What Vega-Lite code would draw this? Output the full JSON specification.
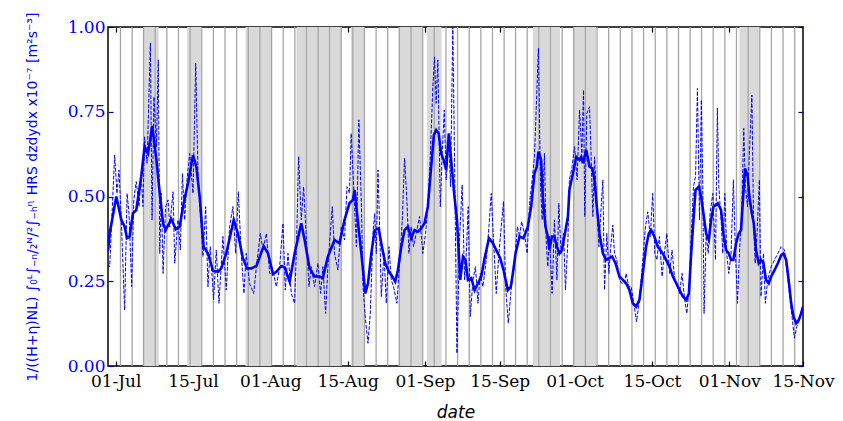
{
  "$schema": "https://vega.github.io/schema/vega-lite/v6.json",
  "width": 695,
  "height": 339,
  "autosize": {"type": "none"},
  "padding": {"left": 108, "top": 27, "right": 40, "bottom": 55},
  "background": "white",
  "config": {"view": {"stroke": "#000000", "strokeWidth": 1.5}, "axis": {"grid": false, "domain": false}},
  "datasets": {
    "spans": [
      {"start": "07-06 12", "end": "07-09 15"},
      {"start": "07-15 08", "end": "07-18 03"},
      {"start": "07-27 01", "end": "08-01 04"},
      {"start": "08-06 06", "end": "08-15 09"},
      {"start": "08-17 04", "end": "08-19 21"},
      {"start": "08-26 17", "end": "08-31 15"},
      {"start": "09-01 10", "end": "09-04 08"},
      {"start": "09-22 16", "end": "09-28 02"},
      {"start": "09-30 16", "end": "10-05 07"},
      {"start": "11-03 01", "end": "11-07 01"}
    ],
    "vlines": [
      {"t": "07-01 23"}, {"t": "07-04 07"}, {"t": "07-06 14"}, {"t": "07-08 22"}, {"t": "07-11 06"},
      {"t": "07-13 14"}, {"t": "07-15 22"}, {"t": "07-18 06"}, {"t": "07-20 14"}, {"t": "07-22 22"},
      {"t": "07-25 06"}, {"t": "07-27 14"}, {"t": "07-29 22"}, {"t": "08-01 06"}, {"t": "08-03 14"},
      {"t": "08-05 22"}, {"t": "08-08 06"}, {"t": "08-10 14"}, {"t": "08-12 21"}, {"t": "08-15 05"},
      {"t": "08-17 13"}, {"t": "08-19 21"}, {"t": "08-22 05"}, {"t": "08-24 13"}, {"t": "08-26 21"},
      {"t": "08-29 05"}, {"t": "08-31 13"}, {"t": "09-02 21"}, {"t": "09-05 05"}, {"t": "09-07 13"},
      {"t": "09-09 21"}, {"t": "09-12 05"}, {"t": "09-14 13"}, {"t": "09-16 21"}, {"t": "09-19 04"},
      {"t": "09-21 12"}, {"t": "09-23 20"}, {"t": "09-26 04"}, {"t": "09-28 12"}, {"t": "09-30 20"},
      {"t": "10-03 04"}, {"t": "10-05 12"}, {"t": "10-07 20"}, {"t": "10-10 04"}, {"t": "10-12 12"},
      {"t": "10-14 20"}, {"t": "10-17 04"}, {"t": "10-19 12"}, {"t": "10-21 20"}, {"t": "10-24 04"},
      {"t": "10-26 11"}, {"t": "10-28 19"}, {"t": "10-31 03"}, {"t": "11-02 11"}, {"t": "11-04 19"},
      {"t": "11-07 03"}, {"t": "11-09 11"}, {"t": "11-11 19"}, {"t": "11-14 03"}
    ],
    "raw": [
      {"t": "06-29 12", "v": 0.30}, {"t": "06-29 19", "v": 0.293}, {"t": "06-30 19", "v": 0.622},
      {"t": "07-01 06", "v": 0.509}, {"t": "07-01 16", "v": 0.578}, {"t": "07-02 03", "v": 0.431},
      {"t": "07-02 19", "v": 0.165}, {"t": "07-03 07", "v": 0.509}, {"t": "07-03 16", "v": 0.45},
      {"t": "07-04 05", "v": 0.234}, {"t": "07-04 15", "v": 0.49}, {"t": "07-05 03", "v": 0.544},
      {"t": "07-05 16", "v": 0.47}, {"t": "07-06 03", "v": 0.559}, {"t": "07-06 11", "v": 0.47},
      {"t": "07-06 19", "v": 0.676}, {"t": "07-07 07", "v": 0.598}, {"t": "07-07 23", "v": 0.952},
      {"t": "07-08 07", "v": 0.431}, {"t": "07-08 16", "v": 0.794}, {"t": "07-09 04", "v": 0.647},
      {"t": "07-09 13", "v": 0.903}, {"t": "07-09 20", "v": 0.332}, {"t": "07-10 04", "v": 0.509},
      {"t": "07-10 12", "v": 0.273}, {"t": "07-11 00", "v": 0.47}, {"t": "07-11 12", "v": 0.49},
      {"t": "07-11 20", "v": 0.411}, {"t": "07-12 12", "v": 0.514}, {"t": "07-12 20", "v": 0.303},
      {"t": "07-13 12", "v": 0.431}, {"t": "07-13 23", "v": 0.342}, {"t": "07-14 09", "v": 0.568},
      {"t": "07-14 20", "v": 0.431}, {"t": "07-15 07", "v": 0.549}, {"t": "07-15 20", "v": 0.627},
      {"t": "07-16 12", "v": 0.509}, {"t": "07-17 01", "v": 0.893}, {"t": "07-17 12", "v": 0.568},
      {"t": "07-17 23", "v": 0.45}, {"t": "07-18 12", "v": 0.323}, {"t": "07-19 01", "v": 0.47},
      {"t": "07-19 12", "v": 0.234}, {"t": "07-19 23", "v": 0.352}, {"t": "07-20 15", "v": 0.195},
      {"t": "07-21 04", "v": 0.342}, {"t": "07-21 17", "v": 0.185}, {"t": "07-22 12", "v": 0.382},
      {"t": "07-23 04", "v": 0.224}, {"t": "07-23 20", "v": 0.411}, {"t": "07-24 12", "v": 0.47},
      {"t": "07-25 01", "v": 0.332}, {"t": "07-25 14", "v": 0.514}, {"t": "07-26 04", "v": 0.332},
      {"t": "07-26 17", "v": 0.214}, {"t": "07-27 04", "v": 0.332}, {"t": "07-27 20", "v": 0.244},
      {"t": "07-28 16", "v": 0.214}, {"t": "07-29 05", "v": 0.293}, {"t": "07-30 00", "v": 0.391},
      {"t": "07-30 13", "v": 0.342}, {"t": "07-31 05", "v": 0.391}, {"t": "07-31 21", "v": 0.273},
      {"t": "08-01 16", "v": 0.273}, {"t": "08-02 05", "v": 0.234}, {"t": "08-02 21", "v": 0.293},
      {"t": "08-03 13", "v": 0.421}, {"t": "08-04 00", "v": 0.224}, {"t": "08-04 13", "v": 0.332},
      {"t": "08-05 05", "v": 0.214}, {"t": "08-05 21", "v": 0.185}, {"t": "08-06 05", "v": 0.332},
      {"t": "08-06 16", "v": 0.617}, {"t": "08-07 05", "v": 0.431}, {"t": "08-07 16", "v": 0.529},
      {"t": "08-08 05", "v": 0.382}, {"t": "08-08 18", "v": 0.234}, {"t": "08-09 05", "v": 0.293},
      {"t": "08-09 21", "v": 0.234}, {"t": "08-10 13", "v": 0.303}, {"t": "08-11 02", "v": 0.214},
      {"t": "08-11 13", "v": 0.293}, {"t": "08-12 02", "v": 0.155}, {"t": "08-12 13", "v": 0.293},
      {"t": "08-13 10", "v": 0.47}, {"t": "08-13 21", "v": 0.332}, {"t": "08-14 13", "v": 0.283},
      {"t": "08-15 05", "v": 0.411}, {"t": "08-15 21", "v": 0.372}, {"t": "08-16 09", "v": 0.529},
      {"t": "08-16 21", "v": 0.51}, {"t": "08-17 05", "v": 0.686}, {"t": "08-17 17", "v": 0.529},
      {"t": "08-18 06", "v": 0.352}, {"t": "08-18 18", "v": 0.726}, {"t": "08-19 06", "v": 0.48},
      {"t": "08-19 14", "v": 0.234}, {"t": "08-20 02", "v": 0.136}, {"t": "08-20 14", "v": 0.067},
      {"t": "08-21 01", "v": 0.155}, {"t": "08-21 14", "v": 0.391}, {"t": "08-21 22", "v": 0.45},
      {"t": "08-22 06", "v": 0.332}, {"t": "08-22 14", "v": 0.578}, {"t": "08-22 22", "v": 0.411},
      {"t": "08-23 06", "v": 0.205}, {"t": "08-23 19", "v": 0.332}, {"t": "08-24 06", "v": 0.185},
      {"t": "08-24 19", "v": 0.352}, {"t": "08-25 06", "v": 0.254}, {"t": "08-25 17", "v": 0.234},
      {"t": "08-26 09", "v": 0.185}, {"t": "08-26 22", "v": 0.303}, {"t": "08-27 11", "v": 0.431},
      {"t": "08-27 22", "v": 0.613}, {"t": "08-28 09", "v": 0.49}, {"t": "08-28 19", "v": 0.332},
      {"t": "08-29 06", "v": 0.411}, {"t": "08-29 17", "v": 0.352}, {"t": "08-30 06", "v": 0.391},
      {"t": "08-30 22", "v": 0.441}, {"t": "08-31 14", "v": 0.332}, {"t": "09-01 03", "v": 0.391},
      {"t": "09-01 14", "v": 0.47}, {"t": "09-02 01", "v": 0.608}, {"t": "09-02 14", "v": 0.824},
      {"t": "09-02 22", "v": 0.912}, {"t": "09-03 06", "v": 0.775}, {"t": "09-03 14", "v": 0.903},
      {"t": "09-04 02", "v": 0.47}, {"t": "09-04 11", "v": 0.627}, {"t": "09-04 21", "v": 0.755},
      {"t": "09-05 06", "v": 0.549}, {"t": "09-05 19", "v": 0.676}, {"t": "09-06 03", "v": 0.529},
      {"t": "09-06 14", "v": 1.0}, {"t": "09-07 00", "v": 0.529}, {"t": "09-07 10", "v": 0.037},
      {"t": "09-07 23", "v": 0.382}, {"t": "09-08 11", "v": 0.534}, {"t": "09-08 23", "v": 0.254},
      {"t": "09-09 07", "v": 0.332}, {"t": "09-09 16", "v": 0.47}, {"t": "09-10 02", "v": 0.146},
      {"t": "09-10 15", "v": 0.254}, {"t": "09-11 03", "v": 0.293}, {"t": "09-11 15", "v": 0.185},
      {"t": "09-12 02", "v": 0.273}, {"t": "09-12 15", "v": 0.234}, {"t": "09-13 07", "v": 0.313},
      {"t": "09-13 20", "v": 0.411}, {"t": "09-14 07", "v": 0.509}, {"t": "09-14 18", "v": 0.372},
      {"t": "09-15 07", "v": 0.214}, {"t": "09-15 20", "v": 0.332}, {"t": "09-16 07", "v": 0.411},
      {"t": "09-16 18", "v": 0.485}, {"t": "09-17 04", "v": 0.234}, {"t": "09-17 17", "v": 0.126},
      {"t": "09-18 05", "v": 0.214}, {"t": "09-18 15", "v": 0.273}, {"t": "09-19 02", "v": 0.332},
      {"t": "09-19 13", "v": 0.411}, {"t": "09-19 23", "v": 0.382}, {"t": "09-20 09", "v": 0.426},
      {"t": "09-20 23", "v": 0.391}, {"t": "09-21 12", "v": 0.332}, {"t": "09-21 23", "v": 0.48},
      {"t": "09-22 12", "v": 0.549}, {"t": "09-22 23", "v": 0.617}, {"t": "09-23 10", "v": 0.804},
      {"t": "09-23 18", "v": 0.937}, {"t": "09-24 04", "v": 0.529}, {"t": "09-24 12", "v": 0.431},
      {"t": "09-24 23", "v": 0.627}, {"t": "09-25 07", "v": 0.372}, {"t": "09-25 15", "v": 0.293},
      {"t": "09-25 23", "v": 0.382}, {"t": "09-26 12", "v": 0.214}, {"t": "09-26 23", "v": 0.431},
      {"t": "09-27 11", "v": 0.254}, {"t": "09-27 20", "v": 0.48}, {"t": "09-28 07", "v": 0.332},
      {"t": "09-28 19", "v": 0.391}, {"t": "09-29 04", "v": 0.224}, {"t": "09-29 16", "v": 0.372},
      {"t": "09-29 23", "v": 0.549}, {"t": "09-30 12", "v": 0.588}, {"t": "10-01 00", "v": 0.647},
      {"t": "10-01 12", "v": 0.549}, {"t": "10-02 00", "v": 0.755}, {"t": "10-02 11", "v": 0.627},
      {"t": "10-02 19", "v": 0.814}, {"t": "10-03 01", "v": 0.441}, {"t": "10-03 11", "v": 0.745},
      {"t": "10-04 00", "v": 0.765}, {"t": "10-04 08", "v": 0.608}, {"t": "10-04 16", "v": 0.441},
      {"t": "10-05 00", "v": 0.617}, {"t": "10-05 08", "v": 0.509}, {"t": "10-05 21", "v": 0.352},
      {"t": "10-06 08", "v": 0.47}, {"t": "10-06 16", "v": 0.549}, {"t": "10-07 00", "v": 0.224},
      {"t": "10-07 11", "v": 0.391}, {"t": "10-07 21", "v": 0.273}, {"t": "10-08 06", "v": 0.352},
      {"t": "10-08 16", "v": 0.416}, {"t": "10-09 00", "v": 0.332}, {"t": "10-09 11", "v": 0.313},
      {"t": "10-10 00", "v": 0.254}, {"t": "10-10 11", "v": 0.244}, {"t": "10-11 00", "v": 0.244},
      {"t": "10-11 08", "v": 0.273}, {"t": "10-11 21", "v": 0.234}, {"t": "10-12 08", "v": 0.234},
      {"t": "10-12 21", "v": 0.185}, {"t": "10-13 10", "v": 0.131}, {"t": "10-14 00", "v": 0.195},
      {"t": "10-14 16", "v": 0.313}, {"t": "10-15 05", "v": 0.411}, {"t": "10-15 16", "v": 0.455},
      {"t": "10-16 04", "v": 0.382}, {"t": "10-16 16", "v": 0.509}, {"t": "10-17 02", "v": 0.332},
      {"t": "10-17 12", "v": 0.313}, {"t": "10-18 00", "v": 0.382}, {"t": "10-18 13", "v": 0.264},
      {"t": "10-19 00", "v": 0.332}, {"t": "10-19 12", "v": 0.391}, {"t": "10-20 01", "v": 0.273},
      {"t": "10-20 13", "v": 0.342}, {"t": "10-21 02", "v": 0.254}, {"t": "10-21 13", "v": 0.244},
      {"t": "10-22 01", "v": 0.214}, {"t": "10-22 13", "v": 0.273}, {"t": "10-23 01", "v": 0.2},
      {"t": "10-23 12", "v": 0.155}, {"t": "10-24 01", "v": 0.244}, {"t": "10-24 10", "v": 0.391},
      {"t": "10-24 20", "v": 0.529}, {"t": "10-25 06", "v": 0.559}, {"t": "10-25 15", "v": 0.819},
      {"t": "10-26 01", "v": 0.431}, {"t": "10-26 10", "v": 0.785}, {"t": "10-26 17", "v": 0.529},
      {"t": "10-26 23", "v": 0.155}, {"t": "10-27 09", "v": 0.391}, {"t": "10-27 19", "v": 0.332},
      {"t": "10-28 04", "v": 0.45}, {"t": "10-28 17", "v": 0.509}, {"t": "10-29 06", "v": 0.313},
      {"t": "10-29 15", "v": 0.76}, {"t": "10-29 22", "v": 0.529}, {"t": "10-30 09", "v": 0.431},
      {"t": "10-30 17", "v": 0.332}, {"t": "10-31 03", "v": 0.509}, {"t": "10-31 12", "v": 0.332},
      {"t": "10-31 22", "v": 0.273}, {"t": "11-01 09", "v": 0.332}, {"t": "11-01 20", "v": 0.549},
      {"t": "11-02 06", "v": 0.332}, {"t": "11-02 16", "v": 0.185}, {"t": "11-03 01", "v": 0.332},
      {"t": "11-03 12", "v": 0.45}, {"t": "11-03 22", "v": 0.701}, {"t": "11-04 06", "v": 0.529},
      {"t": "11-04 16", "v": 0.47}, {"t": "11-05 01", "v": 0.627}, {"t": "11-05 13", "v": 0.799},
      {"t": "11-05 21", "v": 0.431}, {"t": "11-06 05", "v": 0.303}, {"t": "11-06 14", "v": 0.391},
      {"t": "11-07 01", "v": 0.549}, {"t": "11-07 09", "v": 0.205}, {"t": "11-07 21", "v": 0.332},
      {"t": "11-08 06", "v": 0.185}, {"t": "11-08 17", "v": 0.254}, {"t": "11-09 10", "v": 0.293},
      {"t": "11-10 02", "v": 0.313}, {"t": "11-10 18", "v": 0.332}, {"t": "11-11 10", "v": 0.352},
      {"t": "11-12 02", "v": 0.342}, {"t": "11-12 13", "v": 0.283}, {"t": "11-13 02", "v": 0.214},
      {"t": "11-13 14", "v": 0.146}, {"t": "11-14 02", "v": 0.082}, {"t": "11-14 13", "v": 0.116},
      {"t": "11-15 02", "v": 0.136}, {"t": "11-15 13", "v": 0.165}, {"t": "11-15 19", "v": 0.175}
    ],
    "smooth": [
      {"t": "06-29 11", "v": 0.34}, {"t": "06-29 19", "v": 0.391}, {"t": "07-01 03", "v": 0.5},
      {"t": "07-02 03", "v": 0.431}, {"t": "07-02 19", "v": 0.411}, {"t": "07-03 07", "v": 0.377},
      {"t": "07-03 19", "v": 0.382}, {"t": "07-04 11", "v": 0.45}, {"t": "07-05 03", "v": 0.46},
      {"t": "07-06 03", "v": 0.559}, {"t": "07-06 19", "v": 0.647}, {"t": "07-07 12", "v": 0.627},
      {"t": "07-08 08", "v": 0.708}, {"t": "07-09 04", "v": 0.608}, {"t": "07-09 20", "v": 0.509},
      {"t": "07-10 12", "v": 0.421}, {"t": "07-11 00", "v": 0.401}, {"t": "07-12 04", "v": 0.433},
      {"t": "07-13 01", "v": 0.403}, {"t": "07-13 20", "v": 0.411}, {"t": "07-14 15", "v": 0.48},
      {"t": "07-15 12", "v": 0.539}, {"t": "07-16 12", "v": 0.622}, {"t": "07-17 04", "v": 0.588},
      {"t": "07-17 20", "v": 0.5}, {"t": "07-18 15", "v": 0.352}, {"t": "07-19 12", "v": 0.332},
      {"t": "07-20 12", "v": 0.281}, {"t": "07-21 12", "v": 0.278}, {"t": "07-22 04", "v": 0.288},
      {"t": "07-23 04", "v": 0.332}, {"t": "07-24 16", "v": 0.431}, {"t": "07-25 12", "v": 0.391},
      {"t": "07-26 12", "v": 0.318}, {"t": "07-27 08", "v": 0.288}, {"t": "07-28 05", "v": 0.288},
      {"t": "07-29 05", "v": 0.295}, {"t": "07-30 16", "v": 0.354}, {"t": "07-31 13", "v": 0.332},
      {"t": "08-01 13", "v": 0.271}, {"t": "08-02 05", "v": 0.278}, {"t": "08-03 05", "v": 0.295},
      {"t": "08-03 21", "v": 0.291}, {"t": "08-04 21", "v": 0.249}, {"t": "08-05 21", "v": 0.332},
      {"t": "08-07 05", "v": 0.421}, {"t": "08-07 21", "v": 0.372}, {"t": "08-08 21", "v": 0.288},
      {"t": "08-09 21", "v": 0.264}, {"t": "08-10 21", "v": 0.264}, {"t": "08-11 13", "v": 0.259},
      {"t": "08-12 13", "v": 0.323}, {"t": "08-13 21", "v": 0.372}, {"t": "08-14 21", "v": 0.362},
      {"t": "08-15 21", "v": 0.431}, {"t": "08-16 21", "v": 0.48}, {"t": "08-17 13", "v": 0.49},
      {"t": "08-17 22", "v": 0.519}, {"t": "08-18 09", "v": 0.45}, {"t": "08-19 06", "v": 0.332},
      {"t": "08-20 01", "v": 0.214}, {"t": "08-20 14", "v": 0.244}, {"t": "08-21 06", "v": 0.332},
      {"t": "08-21 22", "v": 0.401}, {"t": "08-22 17", "v": 0.406}, {"t": "08-23 09", "v": 0.352},
      {"t": "08-24 01", "v": 0.303}, {"t": "08-24 19", "v": 0.278}, {"t": "08-25 11", "v": 0.264},
      {"t": "08-26 01", "v": 0.249}, {"t": "08-26 14", "v": 0.283}, {"t": "08-27 06", "v": 0.352},
      {"t": "08-27 22", "v": 0.401}, {"t": "08-28 14", "v": 0.411}, {"t": "08-29 06", "v": 0.377},
      {"t": "08-29 22", "v": 0.401}, {"t": "08-30 14", "v": 0.396}, {"t": "08-31 06", "v": 0.406},
      {"t": "08-31 22", "v": 0.421}, {"t": "09-01 14", "v": 0.47}, {"t": "09-02 06", "v": 0.588},
      {"t": "09-02 19", "v": 0.681}, {"t": "09-03 06", "v": 0.696}, {"t": "09-03 18", "v": 0.686},
      {"t": "09-04 06", "v": 0.627}, {"t": "09-04 18", "v": 0.608}, {"t": "09-05 06", "v": 0.578},
      {"t": "09-05 19", "v": 0.686}, {"t": "09-06 06", "v": 0.608}, {"t": "09-06 22", "v": 0.5},
      {"t": "09-07 10", "v": 0.431}, {"t": "09-08 02", "v": 0.254}, {"t": "09-08 15", "v": 0.323},
      {"t": "09-09 03", "v": 0.313}, {"t": "09-09 15", "v": 0.254}, {"t": "09-10 07", "v": 0.259},
      {"t": "09-10 23", "v": 0.224}, {"t": "09-11 15", "v": 0.244}, {"t": "09-12 07", "v": 0.264},
      {"t": "09-12 23", "v": 0.318}, {"t": "09-13 20", "v": 0.377}, {"t": "09-14 15", "v": 0.362},
      {"t": "09-15 07", "v": 0.342}, {"t": "09-16 02", "v": 0.318}, {"t": "09-16 18", "v": 0.283},
      {"t": "09-17 15", "v": 0.224}, {"t": "09-18 05", "v": 0.234}, {"t": "09-18 15", "v": 0.273},
      {"t": "09-19 04", "v": 0.332}, {"t": "09-19 23", "v": 0.382}, {"t": "09-20 18", "v": 0.377},
      {"t": "09-21 15", "v": 0.411}, {"t": "09-22 07", "v": 0.47}, {"t": "09-22 23", "v": 0.568},
      {"t": "09-23 10", "v": 0.588}, {"t": "09-23 18", "v": 0.632}, {"t": "09-24 07", "v": 0.608},
      {"t": "09-24 15", "v": 0.5}, {"t": "09-25 04", "v": 0.411}, {"t": "09-25 15", "v": 0.382},
      {"t": "09-25 23", "v": 0.342}, {"t": "09-26 11", "v": 0.382}, {"t": "09-26 23", "v": 0.382},
      {"t": "09-27 11", "v": 0.352}, {"t": "09-27 23", "v": 0.332}, {"t": "09-28 11", "v": 0.342},
      {"t": "09-28 23", "v": 0.382}, {"t": "09-29 16", "v": 0.441}, {"t": "09-29 23", "v": 0.519},
      {"t": "09-30 16", "v": 0.568}, {"t": "10-01 08", "v": 0.617}, {"t": "10-02 00", "v": 0.608},
      {"t": "10-02 08", "v": 0.617}, {"t": "10-02 16", "v": 0.598}, {"t": "10-03 08", "v": 0.637},
      {"t": "10-04 00", "v": 0.588}, {"t": "10-04 13", "v": 0.583}, {"t": "10-05 00", "v": 0.549},
      {"t": "10-05 11", "v": 0.47}, {"t": "10-06 00", "v": 0.391}, {"t": "10-06 16", "v": 0.332},
      {"t": "10-07 08", "v": 0.313}, {"t": "10-08 00", "v": 0.318}, {"t": "10-08 13", "v": 0.323},
      {"t": "10-09 05", "v": 0.303}, {"t": "10-10 00", "v": 0.264}, {"t": "10-10 16", "v": 0.254},
      {"t": "10-11 08", "v": 0.244}, {"t": "10-12 00", "v": 0.224}, {"t": "10-12 16", "v": 0.185},
      {"t": "10-13 08", "v": 0.175}, {"t": "10-14 00", "v": 0.195}, {"t": "10-14 16", "v": 0.273},
      {"t": "10-15 08", "v": 0.352}, {"t": "10-15 21", "v": 0.391}, {"t": "10-16 08", "v": 0.401},
      {"t": "10-17 00", "v": 0.382}, {"t": "10-17 16", "v": 0.352}, {"t": "10-18 04", "v": 0.342},
      {"t": "10-18 16", "v": 0.332}, {"t": "10-19 08", "v": 0.313}, {"t": "10-20 01", "v": 0.293},
      {"t": "10-20 17", "v": 0.264}, {"t": "10-21 09", "v": 0.244}, {"t": "10-22 01", "v": 0.224},
      {"t": "10-22 17", "v": 0.205}, {"t": "10-23 09", "v": 0.195}, {"t": "10-23 22", "v": 0.214},
      {"t": "10-24 09", "v": 0.332}, {"t": "10-24 20", "v": 0.431}, {"t": "10-25 06", "v": 0.519},
      {"t": "10-25 22", "v": 0.529}, {"t": "10-26 09", "v": 0.5}, {"t": "10-26 20", "v": 0.45},
      {"t": "10-27 09", "v": 0.391}, {"t": "10-27 22", "v": 0.372}, {"t": "10-28 09", "v": 0.431},
      {"t": "10-28 20", "v": 0.47}, {"t": "10-29 17", "v": 0.48}, {"t": "10-30 09", "v": 0.46},
      {"t": "10-30 20", "v": 0.391}, {"t": "10-31 09", "v": 0.342}, {"t": "10-31 22", "v": 0.332},
      {"t": "11-01 09", "v": 0.313}, {"t": "11-01 20", "v": 0.313}, {"t": "11-02 09", "v": 0.362},
      {"t": "11-02 22", "v": 0.391}, {"t": "11-03 09", "v": 0.401}, {"t": "11-03 20", "v": 0.509},
      {"t": "11-04 04", "v": 0.583}, {"t": "11-04 17", "v": 0.559}, {"t": "11-05 01", "v": 0.5},
      {"t": "11-05 13", "v": 0.45}, {"t": "11-05 22", "v": 0.421}, {"t": "11-06 09", "v": 0.342},
      {"t": "11-06 22", "v": 0.303}, {"t": "11-07 09", "v": 0.313}, {"t": "11-07 21", "v": 0.303},
      {"t": "11-08 09", "v": 0.254}, {"t": "11-08 22", "v": 0.244}, {"t": "11-09 10", "v": 0.264},
      {"t": "11-10 02", "v": 0.283}, {"t": "11-10 18", "v": 0.303}, {"t": "11-11 10", "v": 0.327},
      {"t": "11-11 21", "v": 0.332}, {"t": "11-12 10", "v": 0.313}, {"t": "11-12 22", "v": 0.254},
      {"t": "11-13 10", "v": 0.185}, {"t": "11-13 21", "v": 0.146}, {"t": "11-14 10", "v": 0.126},
      {"t": "11-14 23", "v": 0.136}, {"t": "11-15 10", "v": 0.155}, {"t": "11-15 19", "v": 0.175}
    ]
  },
  "layer": [
    {
      "data": {"name": "spans", "format": {"parse": {"start": "utc:'%m-%d %H'", "end": "utc:'%m-%d %H'"}}},
      "mark": {"type": "rect", "color": "#d9d9d9", "clip": true},
      "encoding": {
        "x": {"field": "start", "type": "temporal", "axis": null,
              "scale": {"type": "utc", "domain": [{"year": 1900, "month": 6, "date": 29, "hours": 11, "utc": true}, {"year": 1900, "month": 11, "date": 15, "hours": 19, "utc": true}]}},
        "x2": {"field": "end"}
      }
    },
    {
      "data": {"name": "vlines", "format": {"parse": {"t": "utc:'%m-%d %H'"}}},
      "mark": {"type": "rule", "color": "#a6a6a6", "strokeWidth": 1.3, "clip": true},
      "encoding": {
        "x": {"field": "t", "type": "temporal", "axis": null,
              "scale": {"type": "utc", "domain": [{"year": 1900, "month": 6, "date": 29, "hours": 11, "utc": true}, {"year": 1900, "month": 11, "date": 15, "hours": 19, "utc": true}]}}
      }
    },
    {
      "data": {"name": "raw", "format": {"parse": {"t": "utc:'%m-%d %H'"}}},
      "mark": {"type": "line", "color": "#0000ff", "strokeWidth": 1, "strokeDash": [3.7, 1.6], "clip": true},
      "encoding": {
        "x": {"field": "t", "type": "temporal",
              "scale": {"type": "utc", "domain": [{"year": 1900, "month": 6, "date": 29, "hours": 11, "utc": true}, {"year": 1900, "month": 11, "date": 15, "hours": 19, "utc": true}]},
              "axis": {
                "orient": "bottom",
                "values": [
                  {"year": 1900, "month": 7, "date": 1, "utc": true},
                  {"year": 1900, "month": 7, "date": 16, "hours": 12, "utc": true},
                  {"year": 1900, "month": 8, "date": 1, "utc": true},
                  {"year": 1900, "month": 8, "date": 16, "hours": 12, "utc": true},
                  {"year": 1900, "month": 9, "date": 1, "utc": true},
                  {"year": 1900, "month": 9, "date": 16, "utc": true},
                  {"year": 1900, "month": 10, "date": 1, "utc": true},
                  {"year": 1900, "month": 10, "date": 16, "hours": 12, "utc": true},
                  {"year": 1900, "month": 11, "date": 1, "utc": true},
                  {"year": 1900, "month": 11, "date": 15, "hours": 19, "utc": true}
                ],
                "labelExpr": "utcdate(datum.value) == 1 ? utcFormat(datum.value, '%d-%b') : '15-' + utcFormat(datum.value, '%b')",
                "title": "date",
                "titleFont": "DejaVu Sans", "titleFontStyle": "italic", "titleFontWeight": "normal", "titleFontSize": 17, "titleColor": "#000000",
                "titleY": 51, "titleBaseline": "alphabetic",
                "labelFont": "DejaVu Serif", "labelFontSize": 17, "labelColor": "#000000", "labelPadding": 12,
                "labelOverlap": false, "labelFlush": false, "labelBound": false,
                "tickSize": -5, "tickColor": "#000000", "tickWidth": 1.2, "domain": false, "grid": false
              }},
        "y": {"field": "v", "type": "quantitative",
              "scale": {"domain": [0, 1], "nice": false, "zero": false},
              "axis": {
                "orient": "left",
                "values": [0, 0.25, 0.5, 0.75, 1],
                "format": ".2f",
                "labelFont": "DejaVu Serif", "labelFontSize": 17, "labelColor": "#0000ff", "labelPadding": 8,
                "labelOverlap": false, "labelFlush": false, "labelBound": false,
                "tickSize": -5, "tickColor": "#000080", "tickWidth": 1.2, "domain": false, "grid": false,
                "title": "1/((H+η)NL) ∫₀ᴸ∫₋ₙ/₂ᴺ/²∫₋ₕᶯ HRS dzdydx x10⁻⁷ [m²s⁻³]",
                "titleFont": "DejaVu Sans", "titleFontSize": 14, "titleFontWeight": "normal", "titleColor": "#0000ff",
                "titleX": -76, "titleAngle": -90, "titleBaseline": "middle", "titleAlign": "center"
              }}
      }
    },
    {
      "data": {"name": "smooth", "format": {"parse": {"t": "utc:'%m-%d %H'"}}},
      "mark": {"type": "line", "color": "#0000ff", "strokeWidth": 2.6, "clip": true},
      "encoding": {
        "x": {"field": "t", "type": "temporal", "axis": null,
              "scale": {"type": "utc", "domain": [{"year": 1900, "month": 6, "date": 29, "hours": 11, "utc": true}, {"year": 1900, "month": 11, "date": 15, "hours": 19, "utc": true}]}},
        "y": {"field": "v", "type": "quantitative", "axis": null,
              "scale": {"domain": [0, 1], "nice": false, "zero": false}}
      }
    },
    {
      "data": {"values": [{}]},
      "mark": {"type": "point", "opacity": 0},
      "encoding": {
        "x": {"datum": {"year": 1900, "month": 8, "date": 1, "utc": true}, "type": "temporal",
              "scale": {"type": "utc", "domain": [{"year": 1900, "month": 6, "date": 29, "hours": 11, "utc": true}, {"year": 1900, "month": 11, "date": 15, "hours": 19, "utc": true}]},
              "axis": {
                "orient": "top", "labels": false, "title": null,
                "values": [
                  {"year": 1900, "month": 7, "date": 1, "utc": true},
                  {"year": 1900, "month": 7, "date": 16, "hours": 12, "utc": true},
                  {"year": 1900, "month": 8, "date": 1, "utc": true},
                  {"year": 1900, "month": 8, "date": 16, "hours": 12, "utc": true},
                  {"year": 1900, "month": 9, "date": 1, "utc": true},
                  {"year": 1900, "month": 9, "date": 16, "utc": true},
                  {"year": 1900, "month": 10, "date": 1, "utc": true},
                  {"year": 1900, "month": 10, "date": 16, "hours": 12, "utc": true},
                  {"year": 1900, "month": 11, "date": 1, "utc": true}
                ],
                "tickSize": -5, "tickColor": "#000000", "tickWidth": 1.2, "domain": false, "grid": false
              }},
        "y": {"datum": 0.5, "type": "quantitative",
              "scale": {"domain": [0, 1], "nice": false, "zero": false},
              "axis": {
                "orient": "right", "labels": false, "title": null,
                "values": [0, 0.25, 0.5, 0.75, 1],
                "tickSize": -5, "tickColor": "#000080", "tickWidth": 1.2, "domain": false, "grid": false
              }}
      }
    }
  ],
  "resolve": {"scale": {"x": "independent", "y": "independent"}}
}
